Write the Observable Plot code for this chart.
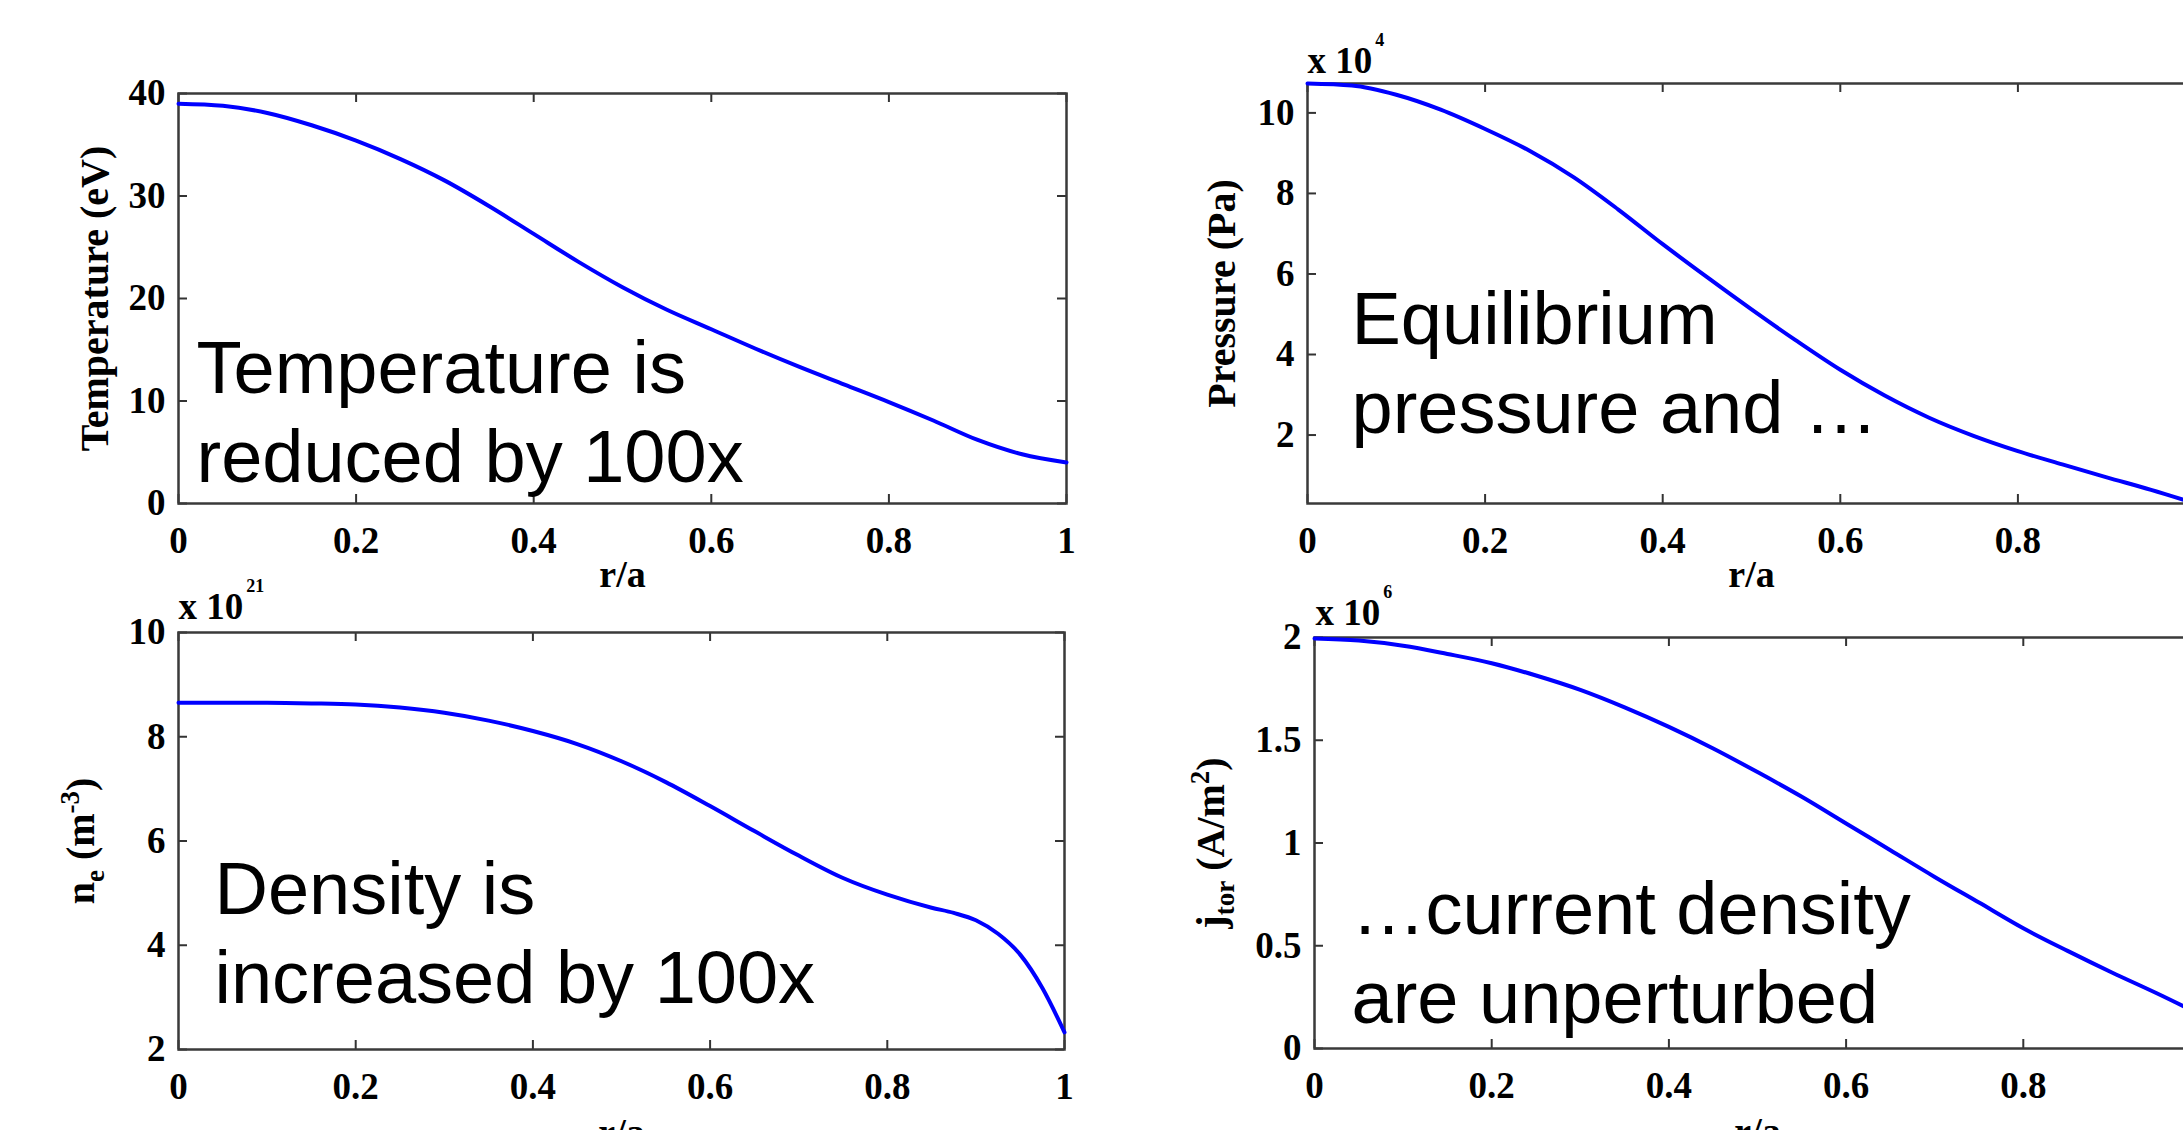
<!DOCTYPE html>
<html>
<head>
<meta charset="utf-8">
<script src="https://cdn.jsdelivr.net/npm/d3@7"></script>
<script src="https://cdn.jsdelivr.net/npm/@observablehq/plot@0.6"></script>
<style>
html, body { margin: 0; padding: 0; background: #fff; overflow: hidden; }
#wrap { position: relative; width: 2183px; height: 1130px; overflow: hidden; background: #fff; }
.panel { position: absolute; }
</style>
</head>
<body>
<div id="wrap"></div>
<script>
// ---- data ----
const rGrid = [0, 0.05, 0.1, 0.15, 0.2, 0.25, 0.3, 0.35, 0.4, 0.45, 0.5, 0.55, 0.6, 0.65, 0.7, 0.75, 0.8, 0.85, 0.9, 0.95, 1];
const temperature = [39.0, 38.8, 38.1, 36.9, 35.4, 33.6, 31.5, 29.0, 26.3, 23.6, 21.1, 18.9, 17.0, 15.1, 13.3, 11.6, 9.9, 8.1, 6.2, 4.8, 4.0];
const pressure = [10.73, 10.68, 10.45, 10.08, 9.60, 9.06, 8.40, 7.60, 6.74, 5.92, 5.12, 4.35, 3.62, 2.98, 2.43, 1.98, 1.60, 1.27, 0.95, 0.64, 0.30];
const rDensity = [0, 0.05, 0.1, 0.15, 0.2, 0.25, 0.3, 0.35, 0.4, 0.45, 0.5, 0.55, 0.6, 0.65, 0.7, 0.75, 0.8, 0.85, 0.875, 0.9, 0.925, 0.95, 0.975, 1];
const density = [8.65, 8.65, 8.65, 8.64, 8.62, 8.56, 8.46, 8.31, 8.11, 7.86, 7.53, 7.13, 6.67, 6.19, 5.72, 5.29, 4.97, 4.72, 4.62, 4.48, 4.22, 3.82, 3.18, 2.33];
const current = [1.995, 1.985, 1.96, 1.92, 1.875, 1.815, 1.745, 1.66, 1.565, 1.46, 1.345, 1.225, 1.095, 0.965, 0.835, 0.71, 0.585, 0.475, 0.37, 0.27, 0.165];

const xTicks = [0, 0.2, 0.4, 0.6, 0.8, 1];
const tempTicks = [0, 10, 20, 30, 40];
const pressTicks = [2, 4, 6, 8, 10];
const densTicks = [2, 4, 6, 8, 10];
const currTicks = [0, 0.5, 1, 1.5, 2];

const xLabel = "r/a";
const yLabels = ["Temperature (eV)", "Pressure (Pa)", "n_{e} (m^{-3})", "j_{tor} (A/m^{2})"];
const exponents = [null, "x 10^{4}", "x 10^{21}", "x 10^{6}"];
const notes = ["Temperature is\nreduced by 100x", "Equilibrium\npressure and \u2026", "Density is\nincreased by 100x", "\u2026current density\nare unperturbed"];

const SERIF = "'Liberation Serif', 'Times New Roman', serif";
const SANS = "'Liberation Sans', Arial, sans-serif";

function richify(svg) {
  d3.select(svg).selectAll("text").each(function () {
    const t = this.textContent;
    if (!/[_^]\{/.test(t) || this.querySelector("tspan")) return;
    const isExp = t.startsWith("x 10");
    const opt = isExp ? {sup: 27, sub: 0, size: 18} : {sup: 15, sub: 10, size: 27};
    const parts = [];
    const rx = /([_^])\{([^}]*)\}/g;
    let last = 0, m;
    while ((m = rx.exec(t))) {
      if (m.index > last) parts.push({s: t.slice(last, m.index)});
      parts.push({s: m[2], k: m[1]});
      last = rx.lastIndex;
    }
    if (last < t.length) parts.push({s: t.slice(last)});
    this.textContent = "";
    let shift = 0;
    for (const p of parts) {
      const ts = d3.select(this).append("tspan").text(p.s);
      const target = p.k === "^" ? -opt.sup : p.k === "_" ? opt.sub : 0;
      if (target - shift !== 0) ts.attr("dy", target - shift);
      shift = target;
      if (p.k) ts.attr("font-size", opt.size);
      if (p.k === "^" && isExp) ts.attr("dx", 3);
    }
  });
}

function panel(cfg) {
  const {left, top, width, height, mt, mr, mb, ml, rs, vs, yDomain, yTicks,
         yLabel, yLabelDx, xLabelDy, exponent, expDx, expDy, note, noteDx, noteDy} = cfg;
  const fw = width - ml - mr, fh = height - mt - mb;
  const data = rs.map((r, i) => ({r, v: vs[i]}));
  const L = 9;
  const tick = {stroke: "#333", strokeWidth: 2};
  const marks = [
    Plot.tickX(xTicks, {x: d => d, insetTop: fh - L, ...tick}),
    Plot.tickX(xTicks, {x: d => d, insetBottom: fh - L, ...tick}),
    Plot.tickY(yTicks, {y: d => d, insetRight: fw - L, ...tick}),
    Plot.tickY(yTicks, {y: d => d, insetLeft: fw - L, ...tick}),
    Plot.frame({stroke: "#3a3a3a", strokeWidth: 2.5}),
    Plot.axisX(xTicks, {anchor: "bottom", tickSize: 0, tickPadding: 23, tickFormat: d => String(d), label: null}),
    Plot.axisY(yTicks, {anchor: "left", tickSize: 0, tickPadding: 13, tickFormat: d => String(d), label: null}),
    Plot.text([xLabel], {frameAnchor: "bottom", text: d => d, dy: xLabelDy, lineAnchor: "bottom", fontSize: 38}),
    Plot.text([yLabel], {frameAnchor: "left", text: d => d, rotate: -90, dx: yLabelDx, textAnchor: "middle", lineAnchor: "middle", fontSize: 40}),
    Plot.text([note], {frameAnchor: "bottom-left", text: d => d, dx: noteDx, dy: noteDy, lineAnchor: "bottom", textAnchor: "start",
      fontFamily: SANS, fontWeight: "normal", fontSize: 74, lineHeight: 1.2}),
    Plot.line(data, {x: "r", y: "v", stroke: "#0000ff", strokeWidth: 4, curve: "monotone-x"})
  ];
  if (exponent) marks.push(Plot.text([exponent], {frameAnchor: "top-left", text: d => d, dx: expDx, dy: expDy, lineAnchor: "bottom", textAnchor: "start", fontSize: 37}));
  const svg = Plot.plot({
    width, height,
    marginTop: mt, marginRight: mr, marginBottom: mb, marginLeft: ml,
    x: {domain: [0, 1]},
    y: {domain: yDomain},
    style: {fontFamily: SERIF, fontWeight: "bold", fontSize: "37px", color: "black", background: "transparent", overflow: "visible", maxWidth: "none"},
    marks
  });
  richify(svg);
  const div = document.createElement("div");
  div.className = "panel";
  div.style.left = left + "px";
  div.style.top = top + "px";
  div.appendChild(svg);
  document.getElementById("wrap").appendChild(div);
}

panel({left: 0, top: 0, width: 1110, height: 600, mt: 93, mr: 44, mb: 97, ml: 178,
  rs: rGrid, vs: temperature, yDomain: [0, 40], yTicks: tempTicks,
  yLabel: yLabels[0], yLabelDx: -83, xLabelDy: 83, exponent: exponents[0],
  note: notes[0], noteDx: 18, noteDy: -22});

panel({left: 1110, top: 0, width: 1130, height: 600, mt: 83, mr: 45, mb: 97, ml: 197,
  rs: rGrid, vs: pressure, yDomain: d3.extent(pressure), yTicks: pressTicks,
  yLabel: yLabels[1], yLabelDx: -85, xLabelDy: 83, exponent: exponents[1], expDx: 0, expDy: -11,
  note: notes[1], noteDx: 44, noteDy: -71});

panel({left: 0, top: 560, width: 1110, height: 570, mt: 72, mr: 46, mb: 81, ml: 178,
  rs: rDensity, vs: density, yDomain: [2, 10], yTicks: densTicks,
  yLabel: yLabels[2], yLabelDx: -97, xLabelDy: 95, exponent: exponents[2], expDx: 0, expDy: -14,
  note: notes[2], noteDx: 36, noteDy: -47});

panel({left: 1110, top: 560, width: 1130, height: 570, mt: 77, mr: 40, mb: 82, ml: 204,
  rs: rGrid, vs: current, yDomain: [0, 2], yTicks: currTicks,
  yLabel: yLabels[3], yLabelDx: -103, xLabelDy: 95, exponent: exponents[3], expDx: 1, expDy: -13,
  note: notes[3], noteDx: 37, noteDy: -26});
</script>
</body>
</html>
